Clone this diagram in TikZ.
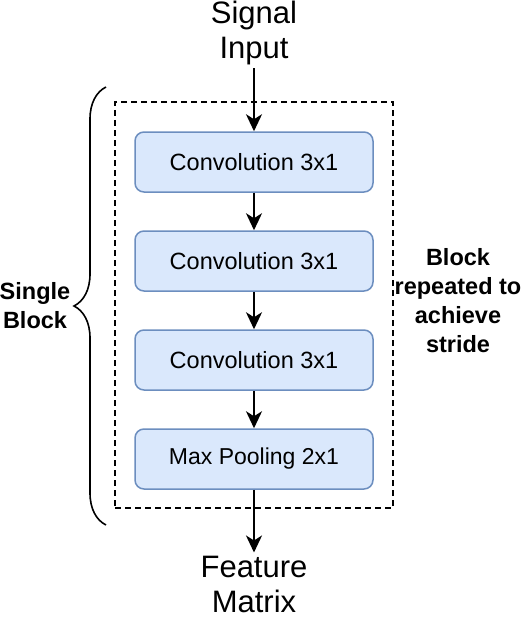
\documentclass[tikz,border=0pt]{standalone}
\usepackage{fontspec}
\setmainfont{Liberation Sans}
\usetikzlibrary{arrows.meta,decorations.pathreplacing}
\definecolor{layerfill}{HTML}{DAE8FC}
\definecolor{layerline}{HTML}{6C8EBF}
\tikzset{
  layer/.style={draw=layerline,fill=layerfill,line width=1.5pt,rounded corners=9pt,
    minimum width=238pt,minimum height=60pt,font=\fontsize{23.5}{28}\selectfont},
  flow/.style={-{Stealth[length=17pt,width=16pt,inset=5pt]},line width=1.8pt},
  bigtext/.style={align=center,inner sep=3pt,font=\fontsize{31}{35}\selectfont},
  sidetext/.style={align=center,font=\bfseries\fontsize{23.5}{29}\selectfont}
}
\begin{document}
\begin{tikzpicture}[x=1pt,y=-1pt]
  \useasboundingbox (0,0) rectangle (526,618);
  \node (blk) at (254,305) [draw,dashed,dash pattern=on 6pt off 4pt,line width=1.6pt,minimum width=278pt,minimum height=406pt] {};
  \node (conv1) at (254,162) [layer] {Convolution 3x1};
  \node (conv2) at (254,261) [layer] {Convolution 3x1};
  \node (conv3) at (254,360) [layer] {Convolution 3x1};
  \node (pool) at (254,459) [layer,font=\fontsize{23}{28}\selectfont] {Max Pooling 2x1};
  \node (inp) at (254,33) [bigtext] {Signal\\Input};
  \node (feat) at (254,584) [bigtext] {Feature\\Matrix};
  \node (single) at (35,306) [sidetext] {Single\\Block};
  \node (rep) at (458,301) [sidetext] {Block\\repeated to\\achieve\\stride};
  \draw[flow] (inp) -- (conv1);
  \draw[flow] (conv1) -- (conv2);
  \draw[flow] (conv2) -- (conv3);
  \draw[flow] (conv3) -- (pool);
  \draw[flow] (pool) -- (feat);
  \draw[line width=1.6pt,decorate,decoration={brace,amplitude=32pt,aspect=0.5}] (106,525) -- (106,87);
\end{tikzpicture}
\end{document}
